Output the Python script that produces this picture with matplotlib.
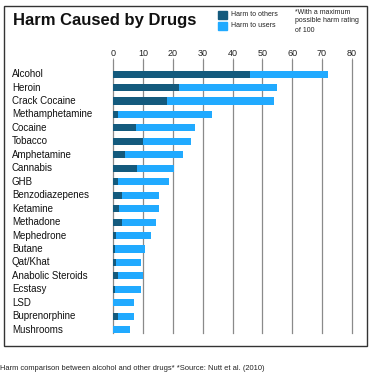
import matplotlib
matplotlib.use("Agg")
import matplotlib.pyplot as plt
from matplotlib.patches import Rectangle

drugs = ["Alcohol", "Heroin", "Crack Cocaine", "Methamphetamine", "Cocaine", "Tobacco",
         "Amphetamine", "Cannabis", "GHB", "Benzodiazepenes", "Ketamine", "Methadone",
         "Mephedrone", "Butane", "Qat/Khat", "Anabolic Steroids", "Ecstasy", "LSD",
         "Buprenorphine", "Mushrooms"]
harm_others = [46, 22, 18, 1.5, 7.5, 10, 4, 8, 1.5, 3, 2, 3, 0.8, 0.6, 0.8, 1.5, 0.6, 0, 1.5, 0]
harm_total = [72, 55, 54, 33, 27.5, 26, 23.5, 20.5, 18.8, 15.3, 15.4, 14.2, 12.6, 10.8, 9.3, 9.8, 9.3, 6.8, 7.0, 5.6]
harm_users = [t - o for t, o in zip(harm_total, harm_others)]
ticks = [0, 10, 20, 30, 40, 50, 60, 70, 80]

dark = "#145a7d"
light = "#21aaff"
font = "Liberation Sans"

fig = plt.figure(figsize=(3.75, 3.75), dpi=100)
fig.patch.set_facecolor("white")

# frame
fig.patches.append(Rectangle((4/375, 1-346/375), (366.7-4)/375, (346-5.7)/375,
                             transform=fig.transFigure, fill=False, edgecolor="#333333", lw=1.0))

ax = fig.add_axes([113.3/375, 1-333.3/375, (351.7-113.3)/375, (333.3-60)/375])
y = list(range(len(drugs)))
ax.barh(y, harm_others, height=0.53, color=dark, zorder=3)
ax.barh(y, harm_users, left=harm_others, height=0.53, color=light, zorder=3)
ax.set_xlim(0, 80)
ax.set_ylim(19.27, -1.05)
ax.set_xticks(ticks)
ax.set_xticklabels([str(t) for t in ticks], fontsize=6.5, family=font, color="#222222")
ax.xaxis.tick_top()
ax.tick_params(axis="x", length=1.5, width=0.6, color="#888888", pad=0.3)
ax.set_yticks([])
for s in ax.spines.values():
    s.set_visible(False)
for t in ticks:
    ax.axvline(t, color="#8a8a8a", lw=0.9, zorder=1, clip_on=False)

for i, d in enumerate(drugs):
    ax.annotate(d, xy=(0, i), xycoords=("figure fraction", "data"),
                xytext=(12, 0), textcoords="offset pixels",
                ha="left", va="center", fontsize=7, family=font, color="#111111")

fig.text(13/375, 1-21/375, "Harm Caused by Drugs", fontsize=12, fontweight="bold",
         family=font, ha="left", va="center", color="#111111")

fig.patches.append(Rectangle((218/375, 1-18.5/375), 9/375, 7.5/375, transform=fig.transFigure,
                             color=dark))
fig.patches.append(Rectangle((218/375, 1-30/375), 9/375, 8/375, transform=fig.transFigure,
                             color=light))
fig.text(231/375, 1-14.5/375, "Harm to others", fontsize=5, family=font, va="center", color="#222222")
fig.text(231/375, 1-25.5/375, "Harm to users", fontsize=5, family=font, va="center", color="#222222")
fig.text(295/375, 1-8.5/375, "*With a maximum\npossible harm rating\nof 100", fontsize=5,
         family=font, va="top", ha="left", linespacing=1.4, color="#222222")

fig.text(0, 1-368.5/375, "Harm comparison between alcohol and other drugs* *Source: Nutt et al. (2010)",
         fontsize=5.4, family=font, va="center", ha="left", color="#222222")

fig.savefig("out.png", dpi=100)
